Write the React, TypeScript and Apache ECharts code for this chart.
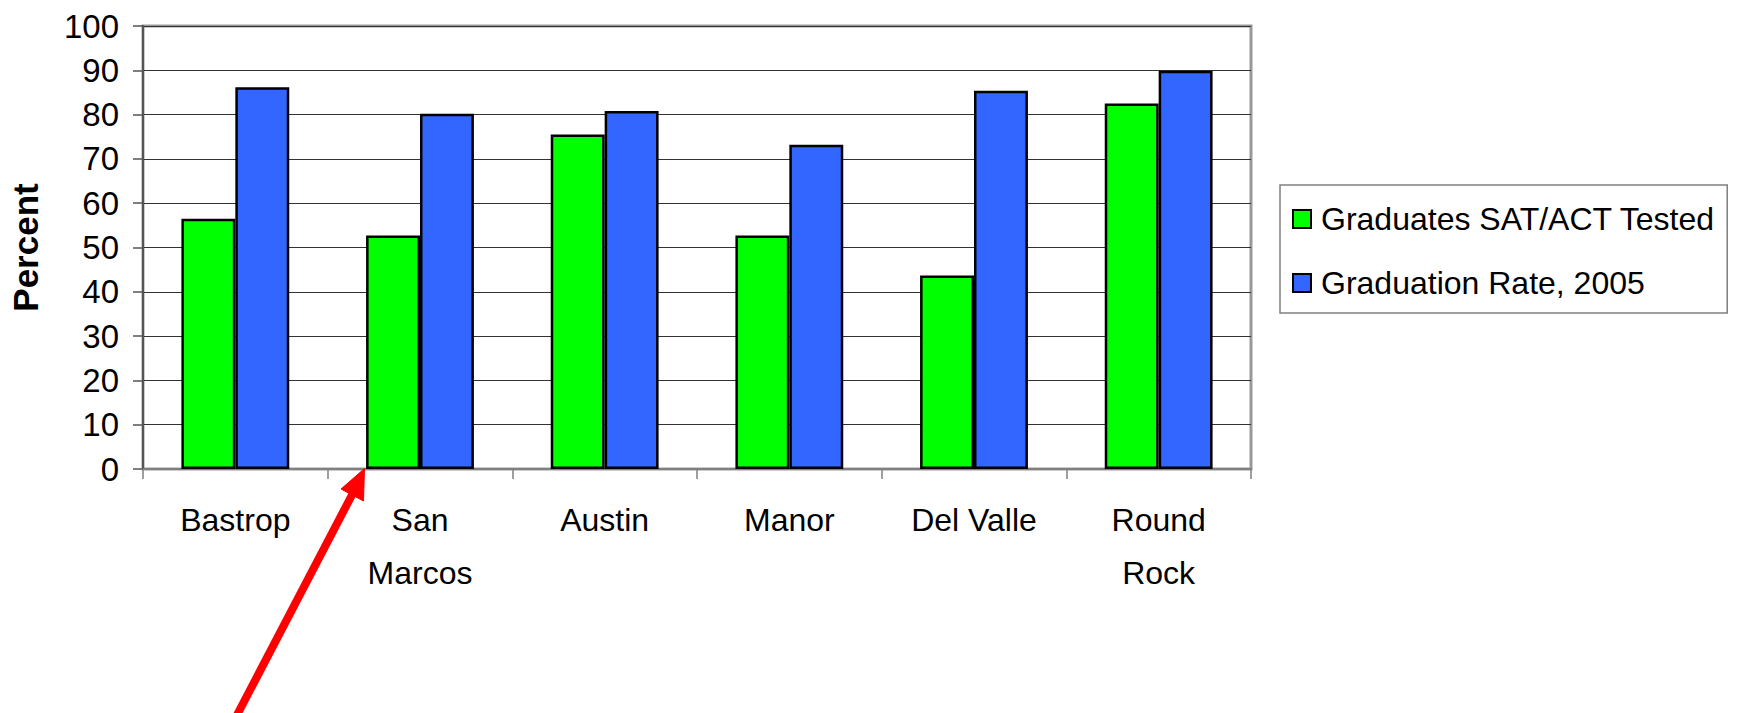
import React, { useEffect, useRef } from "react";
import * as echarts from "echarts";

const categories = ["Bastrop", "San\nMarcos", "Austin", "Manor", "Del Valle", "Round\nRock"];
const seriesNames = ["Graduates SAT/ACT Tested", "Graduation Rate, 2005"];
const satTested = [56.5, 52.7, 75.5, 52.7, 43.7, 82.5];
const gradRate = [86.2, 80.2, 80.8, 73.2, 85.4, 89.9];
const yTicks = { min: 0, max: 100, interval: 10 };

const FONT = "'Liberation Sans', Arial, Helvetica, sans-serif";

export default function App() {
  const ref = useRef<HTMLDivElement>(null);

  useEffect(() => {
    document.body.style.margin = "0";
    if (!ref.current) return;
    const chart = echarts.init(ref.current, undefined, { renderer: "svg" });
    chart.setOption({
      animation: false,
      backgroundColor: "#ffffff",
      textStyle: { fontFamily: FONT, color: "#000" },
      grid: {
        left: 142,
        right: 490,
        top: 26,
        bottom: 244,
        show: true,
        borderColor: "#999999",
        borderWidth: 3,
      },
      legend: {
        orient: "vertical",
        left: 1280,
        top: 185,
        padding: [17, 12, 13, 12],
        itemGap: 30,
        itemWidth: 18,
        itemHeight: 18,
        borderColor: "#808080",
        borderWidth: 1.5,
        icon: "rect",
        itemStyle: { borderColor: "#000", borderWidth: 2 },
        textStyle: { fontFamily: FONT, fontSize: 32, color: "#000", lineHeight: 34, padding: [0, 0, 0, 5] },
        data: seriesNames,
      },
      xAxis: {
        type: "category",
        data: categories,
        boundaryGap: true,
        axisLine: { show: true, lineStyle: { color: "#808080", width: 2 } },
        axisTick: { show: true, alignWithLabel: false, length: 10, lineStyle: { color: "#808080", width: 1.5 } },
        axisLabel: {
          fontFamily: FONT,
          fontSize: 32,
          color: "#000",
          lineHeight: 53,
          margin: 24,
          interval: 0,
        },
        splitLine: { show: false },
      },
      yAxis: {
        type: "value",
        min: yTicks.min,
        max: yTicks.max,
        interval: yTicks.interval,
        name: "Percent",
        nameLocation: "middle",
        nameRotate: 90,
        nameGap: 100,
        nameTextStyle: { fontFamily: FONT, fontSize: 35, fontWeight: "bold", color: "#000" },
        axisLine: { show: true, lineStyle: { color: "#555555", width: 2 } },
        axisTick: { show: true, length: 10, lineStyle: { color: "#555555", width: 1.5 } },
        axisLabel: { fontFamily: FONT, fontSize: 33, color: "#000", margin: 24 },
        splitLine: { show: true, lineStyle: { color: "#333333", width: 1.2 } },
      },
      series: [
        {
          name: seriesNames[0],
          type: "bar",
          data: satTested,
          barGap: "0%",
          barCategoryGap: "41.6%",
          itemStyle: { color: "#00ff00", borderColor: "#000", borderWidth: 2.5 },
        },
        {
          name: seriesNames[1],
          type: "bar",
          data: gradRate,
          barGap: "0%",
          barCategoryGap: "41.6%",
          itemStyle: { color: "#3366ff", borderColor: "#000", borderWidth: 2.5 },
        },
      ],
      graphic: [
        {
          type: "polyline",
          silent: true,
          z: 100,
          shape: { points: [[236.5, 716], [353, 493]] },
          style: { stroke: "#ff0000", lineWidth: 8, fill: null },
        },
        {
          type: "polygon",
          silent: true,
          z: 100,
          shape: { points: [[364.5, 468.5], [341, 489], [363.5, 501]] },
          style: { fill: "#ff0000", stroke: "#ff0000", lineWidth: 1 },
        },
      ],
    });
    return () => chart.dispose();
  }, []);

  return (
    <div
      ref={ref}
      style={{ position: "absolute", left: 0, top: 0, width: 1741, height: 713, background: "#fff" }}
    />
  );
}
